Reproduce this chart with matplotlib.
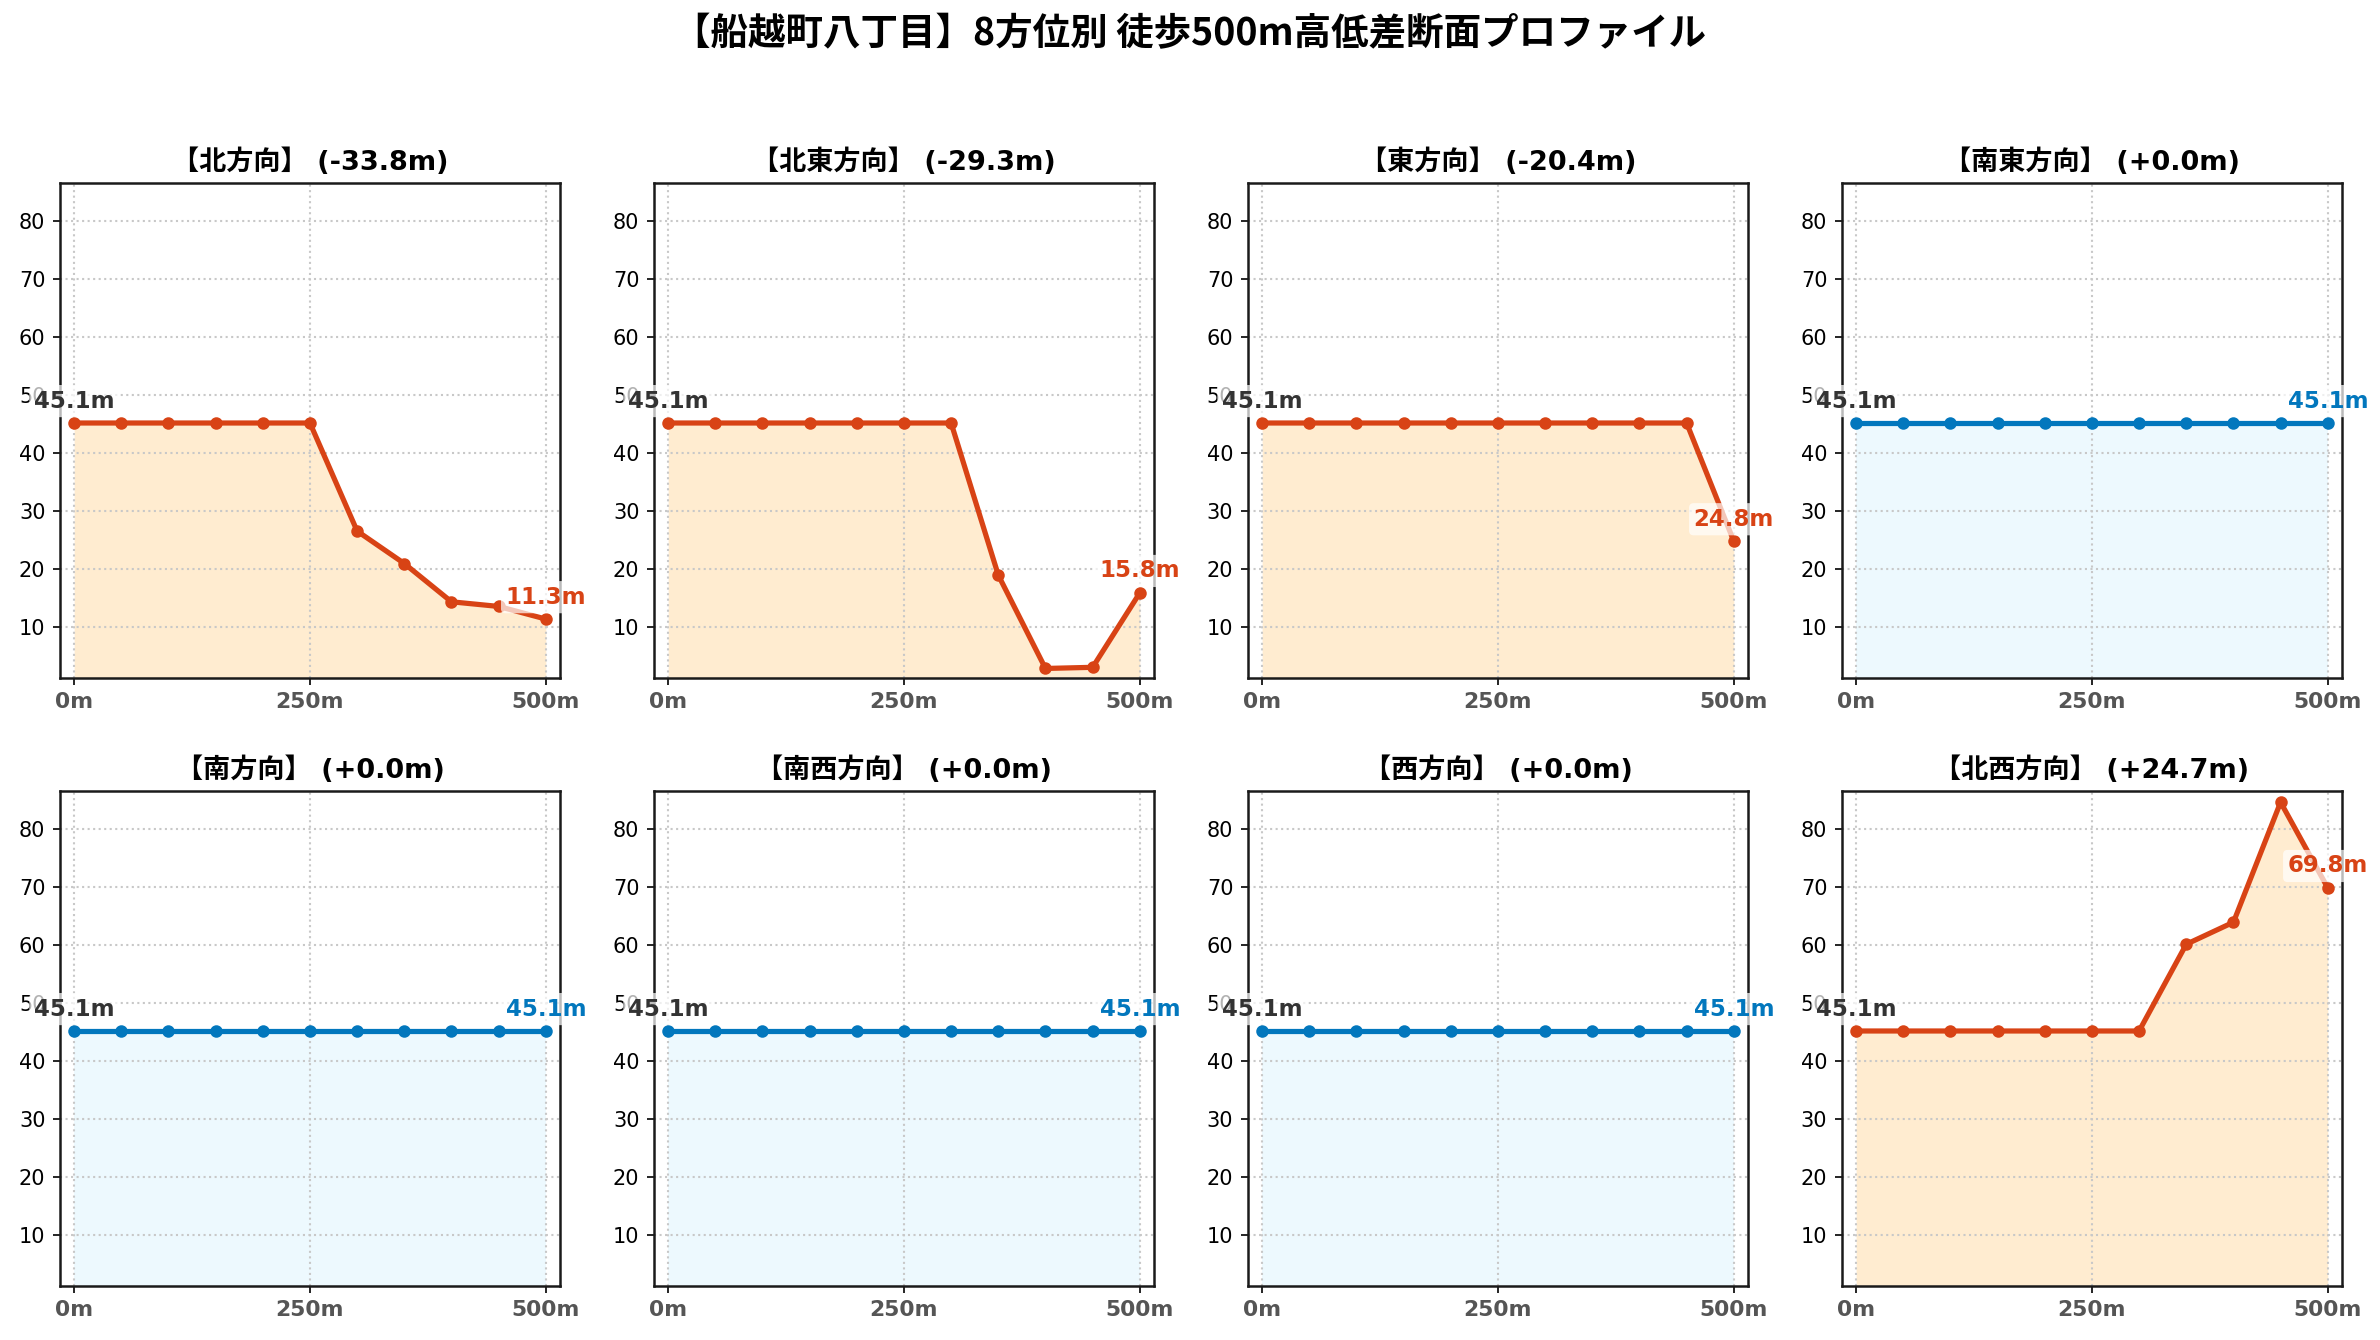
import matplotlib
matplotlib.use("Agg")
import matplotlib.pyplot as plt

plt.rcParams["font.family"] = ["DejaVu Sans", "Noto Sans CJK JP"]

TITLE = "【船越町八丁目】8方位別 徒歩500m高低差断面プロファイル"

distances = [0, 50, 100, 150, 200, 250, 300, 350, 400, 450, 500]
direction_names = ["北", "北東", "東", "南東", "南", "南西", "西", "北西"]

elev_n = [45.14, 45.14, 45.14, 45.14, 45.14, 45.14, 26.5, 20.9, 14.3, 13.5, 11.32]
elev_ne = [45.14, 45.14, 45.14, 45.14, 45.14, 45.14, 45.14, 18.9, 2.8, 3.0, 15.84]
elev_e = [45.14, 45.14, 45.14, 45.14, 45.14, 45.14, 45.14, 45.14, 45.14, 45.14, 24.76]
elev_se = [45.14, 45.14, 45.14, 45.14, 45.14, 45.14, 45.14, 45.14, 45.14, 45.14, 45.14]
elev_s = [45.14, 45.14, 45.14, 45.14, 45.14, 45.14, 45.14, 45.14, 45.14, 45.14, 45.14]
elev_sw = [45.14, 45.14, 45.14, 45.14, 45.14, 45.14, 45.14, 45.14, 45.14, 45.14, 45.14]
elev_w = [45.14, 45.14, 45.14, 45.14, 45.14, 45.14, 45.14, 45.14, 45.14, 45.14, 45.14]
elev_nw = [45.14, 45.14, 45.14, 45.14, 45.14, 45.14, 45.14, 60.1, 63.9, 84.6, 69.82]

profiles = [elev_n, elev_ne, elev_e, elev_se, elev_s, elev_sw, elev_w, elev_nw]

ORANGE = "#D84315"
ORANGE_FILL = "#FFE0B2"
BLUE = "#0277BD"
BLUE_FILL = "#E1F5FE"

fig, axes = plt.subplots(2, 4, figsize=(2380 / 150, 1340 / 150), dpi=150)
fig.subplots_adjust(left=0.0252, right=0.984, top=0.8637, bottom=0.0405,
                    wspace=0.188, hspace=0.228)

for ax, name, elev in zip(axes.flat, direction_names, profiles):
    diff = elev[-1] - elev[0]
    flat = abs(diff) < 0.05
    line_c = BLUE if flat else ORANGE
    fill_c = BLUE_FILL if flat else ORANGE_FILL

    ax.fill_between(distances, elev, 0, color=fill_c, alpha=0.6, lw=0)
    ax.plot(distances, elev, color=line_c, lw=2.5, marker="o", ms=5)

    box = dict(boxstyle="round,pad=0.2", fc="white", ec="none", alpha=0.7)
    ax.annotate(f"{elev[0]:.1f}m", (distances[0], elev[0]), xytext=(0, 5),
                textcoords="offset points", ha="center", va="bottom",
                fontsize=11, fontweight="bold", color="#333333", bbox=box)
    ax.annotate(f"{elev[-1]:.1f}m", (distances[-1], elev[-1]), xytext=(0, 5),
                textcoords="offset points", ha="center", va="bottom",
                fontsize=11, fontweight="bold", color=line_c, bbox=box)

    # panel title: latin part in DejaVu, kanji fall back to the CJK font
    ax.set_title(f"【{name}方向】 ({diff:+.1f}m)", fontsize=13, fontweight="bold")

    ax.set_xlim(-15, 515)
    ax.set_ylim(1.2, 86.6)
    ax.set_xticks([0, 250, 500])
    ax.set_xticklabels(["0m", "250m", "500m"], fontweight="bold", color="#555555",
                       fontsize=10.5)
    ax.set_yticks(range(10, 90, 10))
    ax.tick_params(axis="y", labelsize=10)
    ax.grid(True, linestyle=":", color="#c8c8c8", lw=1)
    for sp in ax.spines.values():
        sp.set_linewidth(1.2)
        sp.set_color("#1a1a1a")

fig.suptitle(TITLE, fontsize=18, fontweight="bold", y=0.975, va="center",
             family=["Noto Sans CJK JP", "DejaVu Sans"])

fig.savefig("out.png", dpi=150)
